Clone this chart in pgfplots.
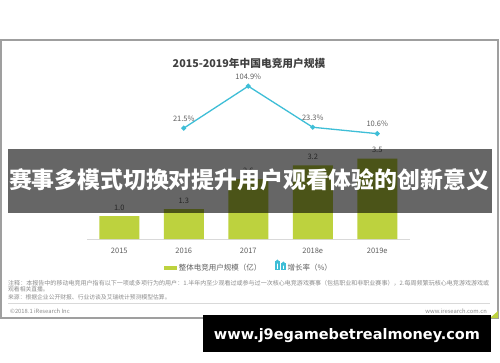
\documentclass[border=0pt]{standalone}
\usepackage{pgfplots}
\pgfplotsset{compat=1.18}
\usepackage{fontspec}
\usepackage{graphicx}
\setmainfont{Noto Sans CJK SC}
\newfontfamily\urlfont{DejaVu Sans}
\definecolor{barg}{RGB}{189,210,62}
\definecolor{linec}{RGB}{62,190,215}
\definecolor{txtg}{RGB}{95,95,95}
\definecolor{notec}{RGB}{140,140,140}
\begin{document}
\begin{tikzpicture}[x=1pt,y=1pt]
\useasboundingbox (0,0) rectangle (500,362);
\fill[white] (0,0) rectangle (500,362);
\draw[gray!75, line width=1.4pt] (1,44) rectangle (498,322);
\fill[barg] (490,44) -- (498,44) -- (498,51) -- cycle;
\node[text=black!75, font=\fontsize{10.7}{11}\selectfont\bfseries] at (249,299) {2015-2019年中国电竞用户规模};
\begin{axis}[at={(87pt,123pt)}, anchor=south west, scale only axis,
  width=322.5pt, height=115pt, xmin=-0.5, xmax=4.5, ymin=0, ymax=5,
  axis x line=bottom, axis y line=none,
  x axis line style={gray!30, line width=0.8pt, -},
  xtick={0,1,2,3,4}, xticklabels={2015,2016,2017,2018e,2019e},
  xtick style={draw=none},
  xticklabel style={font=\fontsize{7.5}{8}\selectfont, text=txtg, yshift=-1pt},
  ytick=\empty,
  /pgf/number format/assume math mode=true,
  ybar, bar width=40pt, clip=false,
  nodes near coords={\pgfmathprintnumber[fixed,fixed zerofill,precision=1]{\pgfplotspointmeta}},
  every node near coord/.append style={font=\fontsize{7.5}{8}\selectfont, text=txtg, yshift=2pt},
  legend style={at={(0.502,-0.243)}, anchor=center, draw=none, fill=none,
    legend columns=2, font=\fontsize{7.5}{8}\selectfont, text=txtg,
    /tikz/every even column/.append style={column sep=12pt}},
  ]
\addplot[fill=barg, draw=none,
  legend image code/.code={\fill[barg] (0pt,-2pt) rectangle (13pt,2pt);}]
  coordinates {(0,1.0) (1,1.3) (2,2.6) (3,3.2) (4,3.5)};
\addlegendentry{整体电竞用户规模（亿）}
\addlegendimage{linec, line width=1.2pt, mark=*, mark size=1.3pt}
\addlegendentry{增长率（\%）}
\end{axis}
\begin{axis}[at={(87pt,223pt)}, anchor=south west, scale only axis,
  width=322.5pt, height=55.4pt, xmin=-0.5, xmax=4.5, ymin=0, ymax=110,
  hide axis, clip=false]
\addplot[linec, line width=1.3pt, mark=*, mark size=1.8pt,
  nodes near coords, point meta=explicit symbolic,
  every node near coord/.append style={font=\fontsize{7.5}{8}\selectfont, text=txtg, yshift=3pt}]
  coordinates {(1,21.5)[21.5\%] (2,104.9)[104.9\%] (3,23.3)[23.3\%] (4,10.6)[10.6\%]};
\end{axis}
\node[anchor=west, inner sep=0, text=notec] at (8,79) {\resizebox{481pt}{!}{\fontsize{5.8}{6}\selectfont 注释：本报告中的移动电竞用户指有以下一项或多项行为的用户：1.半年内至少观看过或参与过一次核心电竞游戏赛事（包括职业和非职业赛事），2.每周频繁玩核心电竞游戏游戏或}};
\node[anchor=west, inner sep=0, text=notec, font=\fontsize{5.8}{6}\selectfont] at (8,72.5) {观看相关直播。};
\node[anchor=west, inner sep=0, text=notec, font=\fontsize{5.8}{6}\selectfont] at (8,65) {来源：根据企业公开财报、行业访谈及艾瑞统计预测模型估算。};
\draw[gray!30, line width=0.6pt] (8,59) -- (490,59);
\node[anchor=west, inner sep=0, text=notec, font=\fontsize{5.8}{6}\selectfont] at (10,51) {©2018.1 iResearch Inc};
\node[anchor=east, inner sep=0, text=notec, font=\fontsize{5.8}{6}\selectfont] at (487,51) {www.iresearch.com.cn};
\fill[black, opacity=0.6] (8,149) rectangle (492,213);
\node[text=white, inner sep=0] at (249,182) {\resizebox{480pt}{!}{\bfseries 赛事多模式切换对提升用户观看体验的创新意义}};
\fill[black] (203,10) rectangle (491,47);
\node[text=white, inner sep=0] at (347,26.5) {\resizebox{266pt}{!}{\urlfont\bfseries www.j9egamebetrealmoney.com}};
\end{tikzpicture}
\end{document}
